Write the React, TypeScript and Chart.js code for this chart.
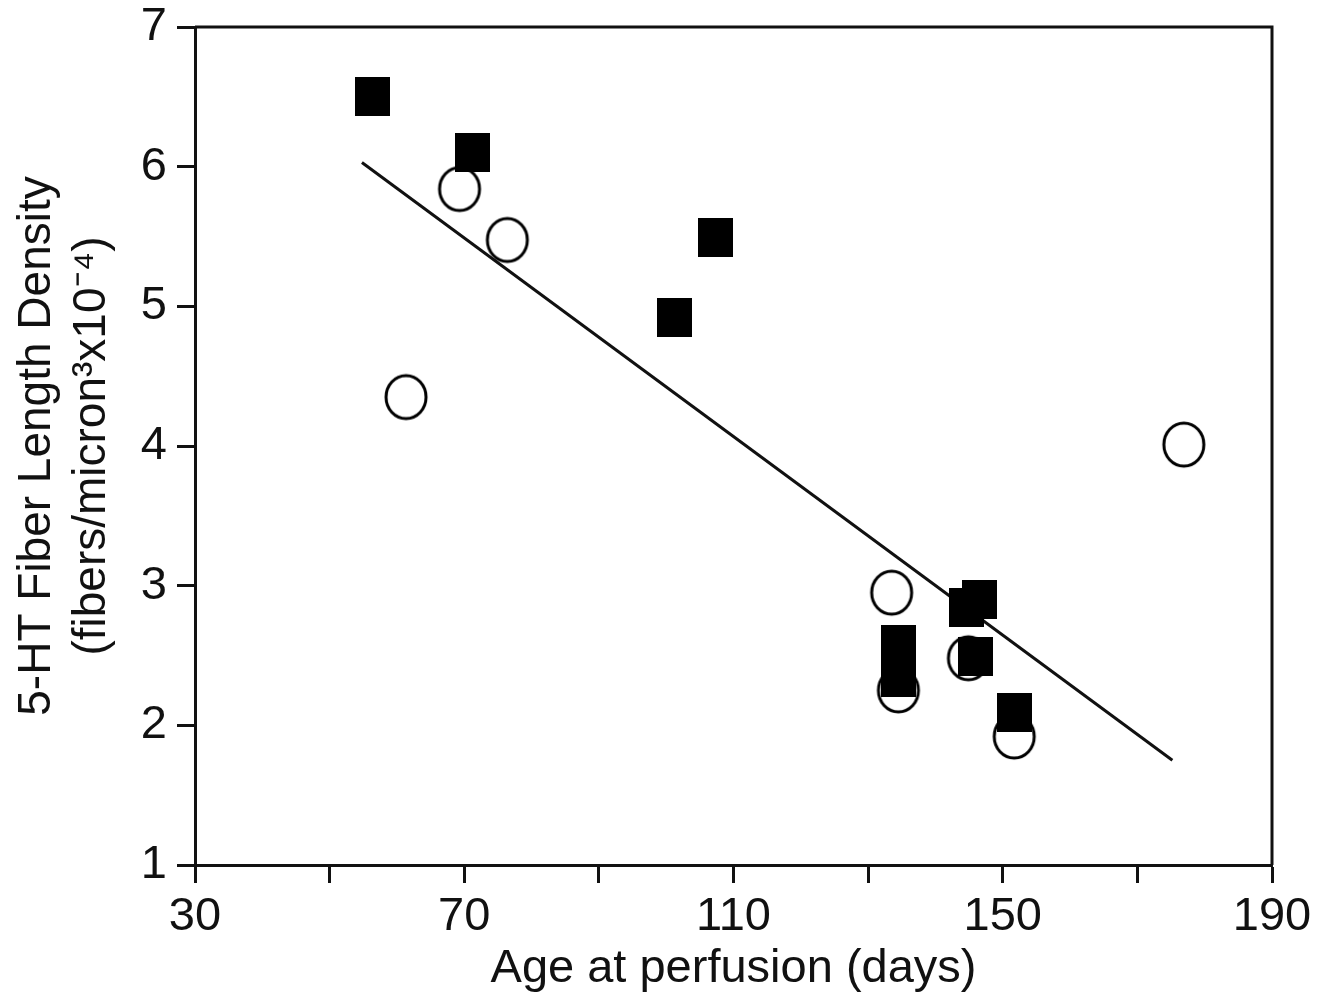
import React, { useEffect, useRef } from "react";
import { Chart, registerables } from "chart.js";

Chart.register(...registerables);

// Filled squares (group 1)
const squareAge = [56.3, 71.2, 107.4, 101.3, 134.5, 134.5, 134.5, 144.6, 146.6, 146.0, 151.8];
const squareDensity = [6.5, 6.1, 5.49, 4.92, 2.58, 2.46, 2.34, 2.845, 2.9, 2.49, 2.09];

// Open circles (group 2)
const circleAge = [69.3, 76.4, 61.35, 176.9, 133.5, 134.5, 144.9, 151.7];
const circleDensity = [5.84, 5.475, 4.35, 4.01, 2.95, 2.25, 2.48, 1.92];

// Regression line end points
const fitAge = [54.8, 175.2];
const fitDensity = [6.03, 1.75];

const xTickLabels = [30, 70, 110, 150, 190];

const xTitle = "Age at perfusion (days)";
const yTitle = ["5-HT Fiber Length Density", "(fibers/micron\u00B3x10\u207B\u2074)"];

const FONT = "'Liberation Sans', Arial, Helvetica, sans-serif";
const INK = "#111111";

function makeSquare(): HTMLCanvasElement {
  const c = document.createElement("canvas");
  c.width = 35;
  c.height = 39;
  const ctx = c.getContext("2d")!;
  ctx.fillStyle = "#000";
  ctx.fillRect(0, 0, 35, 39);
  return c;
}

function makeCircle(): HTMLCanvasElement {
  const c = document.createElement("canvas");
  c.width = 46;
  c.height = 49;
  const ctx = c.getContext("2d")!;
  ctx.beginPath();
  ctx.ellipse(23, 24.5, 20, 21.5, 0, 0, Math.PI * 2);
  ctx.fillStyle = "#fff";
  ctx.fill();
  ctx.lineWidth = 3;
  ctx.strokeStyle = "#000";
  ctx.stroke();
  return c;
}

const frameBox = {
  id: "frameBox",
  afterDraw(chart: any) {
    const { ctx, chartArea } = chart;
    ctx.save();
    ctx.strokeStyle = INK;
    ctx.lineWidth = 3;
    ctx.beginPath();
    ctx.moveTo(chartArea.left, chartArea.top);
    ctx.lineTo(chartArea.right, chartArea.top);
    ctx.lineTo(chartArea.right, chartArea.bottom);
    ctx.stroke();
    ctx.restore();
  },
};

export default function App() {
  const ref = useRef<HTMLCanvasElement | null>(null);

  useEffect(() => {
    if (!ref.current) return;
    const sq = makeSquare();
    const ci = makeCircle();
    const chart = new Chart(ref.current, {
      type: "scatter",
      data: {
        datasets: [
          {
            label: "squares",
            data: squareAge.map((x, i) => ({ x, y: squareDensity[i] })),
            pointStyle: sq as any,
            pointRadius: 18,
            order: 0,
          },
          {
            label: "circles",
            data: circleAge.map((x, i) => ({ x, y: circleDensity[i] })),
            pointStyle: ci as any,
            pointRadius: 20,
            order: 1,
          },
          {
            type: "line" as any,
            label: "fit",
            data: fitAge.map((x, i) => ({ x, y: fitDensity[i] })),
            borderColor: INK,
            borderWidth: 3,
            pointRadius: 0,
            fill: false,
            order: 2,
          } as any,
        ],
      },
      plugins: [frameBox],
      options: {
        animation: false,
        responsive: true,
        maintainAspectRatio: false,
        layout: { padding: { left: 0, top: 27, right: 62, bottom: 0 } },
        plugins: {
          legend: { display: false },
          tooltip: { enabled: false },
        },
        scales: {
          x: {
            type: "linear",
            min: 30,
            max: 190,
            ticks: {
              stepSize: 20,
              autoSkip: false,
              maxRotation: 0,
              padding: 6,
              color: INK,
              font: { family: FONT, size: 47 },
              callback: (v: any) => (xTickLabels.includes(Number(v)) ? String(v) : ""),
            },
            grid: {
              drawOnChartArea: false,
              drawTicks: true,
              tickLength: 18,
              tickWidth: 3,
              tickColor: INK,
            },
            border: { display: true, width: 3, color: INK },
            title: {
              display: true,
              text: xTitle,
              color: INK,
              font: { family: FONT, size: 47 },
              padding: { top: 0, bottom: 0 },
            },
            afterFit: (scale: any) => {
              scale.height = 132;
            },
          },
          y: {
            type: "linear",
            min: 1,
            max: 7,
            ticks: {
              stepSize: 1,
              padding: 10,
              color: INK,
              font: { family: FONT, size: 47 },
            },
            grid: {
              drawOnChartArea: false,
              drawTicks: true,
              tickLength: 18,
              tickWidth: 3,
              tickColor: INK,
            },
            border: { display: true, width: 3, color: INK },
            title: {
              display: true,
              text: yTitle,
              color: INK,
              font: { family: FONT, size: 46, lineHeight: 1.2 },
              padding: { top: 10, bottom: 0 },
            },
            afterFit: (scale: any) => {
              scale.width = 195;
              scale.paddingTop = 0;
              scale.paddingBottom = 0;
            },
          },
        },
      },
    });
    return () => chart.destroy();
  }, []);

  return (
    <div style={{ position: "absolute", left: 0, top: 0, width: 1334, height: 997, background: "#fff" }}>
      <canvas ref={ref} />
    </div>
  );
}
